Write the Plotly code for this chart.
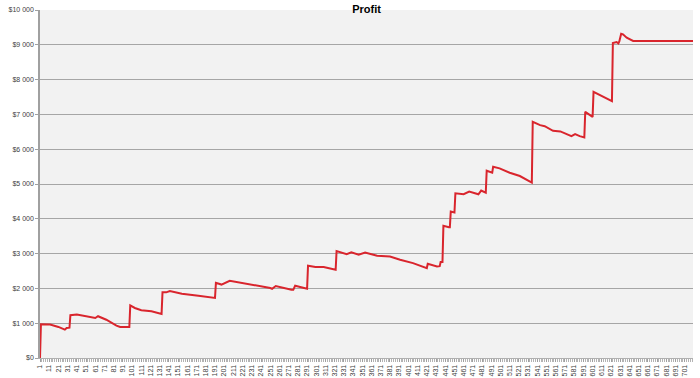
import plotly.graph_objects as go

# Trade number (x) and cumulative profit (y) at the vertices of the equity line
trade = [1, 2, 12, 21, 28, 30, 33, 34, 41, 61, 64, 68, 73, 84, 88, 98,
         99, 104, 111, 122, 133, 134, 138, 142, 155, 173, 188, 191,
         192, 198, 207, 229, 251, 253, 257, 274, 276, 278, 290, 291,
         292, 300, 309, 321, 322, 323, 334, 339, 347, 354, 367, 381, 392,
         406, 419, 421, 422, 432, 435, 436, 438, 439, 445, 446, 447, 450,
         451, 452, 461, 467, 477, 480, 484, 485, 486, 491, 492, 493, 500,
         511, 522, 535, 536, 544, 549, 558, 566, 578, 582, 587, 591, 592,
         593, 600, 601, 602, 609, 620, 622, 623, 627, 629, 630, 632, 634,
         638, 642, 645, 710]
profit = [0, 970, 960, 893, 816, 860, 870, 1230, 1250, 1150, 1200, 1150, 1100, 930, 890, 890,
          1510, 1438, 1375, 1345, 1265, 1886, 1886, 1925, 1848, 1790, 1725, 1725,
          2160, 2110, 2220, 2126, 2011, 1990, 2070, 1963, 1960, 2077, 1991, 1991,
          2650, 2613, 2613, 2536, 2536, 3070, 2985, 3040, 2966, 3030, 2937, 2917, 2822,
          2727, 2584, 2584, 2707, 2631, 2640, 2756, 2756, 3797, 3760, 3760, 4207, 4180,
          4180, 4733, 4705, 4780, 4705, 4810, 4751, 4751, 5382, 5324, 5324, 5496, 5450,
          5324, 5229, 5038, 6786, 6691, 6660, 6527, 6510, 6375, 6433, 6375, 6338, 6338,
          7072, 6929, 6929, 7645, 7550, 7407, 7378, 9049, 9080, 9040, 9097, 9318, 9300,
          9203, 9146, 9110, 9110]

y_ticks = [0, 1000, 2000, 3000, 4000, 5000, 6000, 7000, 8000, 9000, 10000]
y_labels = ["$0", "$1 000", "$2 000", "$3 000", "$4 000", "$5 000",
            "$6 000", "$7 000", "$8 000", "$9 000", "$10 000"]

fig = go.Figure()
fig.add_trace(go.Scatter(x=trade, y=profit, mode="lines",
                         line=dict(color="#d9252d", width=2), hoverinfo="skip"))

fig.update_layout(
    width=700, height=378,
    margin=dict(l=40, r=7, t=10, b=20),
    paper_bgcolor="white", plot_bgcolor="#f2f2f2",
    showlegend=False,
    title=dict(text="<b>Profit</b>", x=(40 + (693 - 40) / 2) / 700, xanchor="center",
               y=0.985, yanchor="top",
               font=dict(family="Liberation Sans, Arial", size=11, color="#000000")),
    font=dict(family="Liberation Sans, Arial", size=7, color="#404040"),
)

fig.update_xaxes(
    range=[1, 710], tickmode="linear", tick0=1, dtick=10,
    tickangle=-90, showgrid=False, zeroline=False,
    showline=True, linecolor="#b0b0b0", linewidth=1,
    ticks="outside", ticklen=3, tickcolor="#a0a0a0",
    minor=dict(dtick=2, tick0=1, ticks="outside", ticklen=3, tickcolor="#b4b4b4", showgrid=False),
    tickfont=dict(size=7, color="#404040"), automargin=False,
)
fig.update_yaxes(
    range=[0, 10000], tickvals=y_ticks, ticktext=y_labels,
    showgrid=True, gridcolor="#a6a6a6", gridwidth=1.3,
    zeroline=False, showline=True, linecolor="#a0a0a0", linewidth=1.5,
    ticks="outside", ticklen=3, tickcolor="#a0a0a0",
    tickfont=dict(size=7, color="#404040"), automargin=False,
)

fig.write_html("out.html")
